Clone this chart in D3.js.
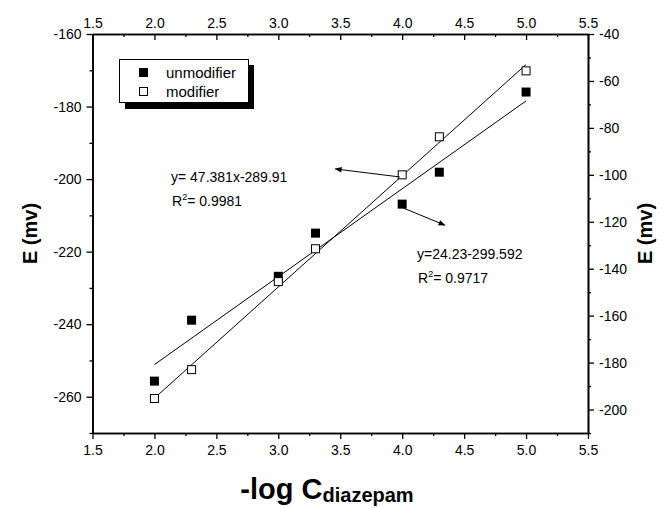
<!DOCTYPE html>
<html>
<head>
<meta charset="utf-8">
<script src="https://cdn.jsdelivr.net/npm/d3@7"></script>
<style>
  html, body { margin: 0; padding: 0; background: #fff; }
  svg { display: block; font-family: "Liberation Sans", Arial, sans-serif; }
</style>
</head>
<body>
<svg id="chart" width="664" height="508"></svg>
<script>
// -log C values (shared by both series)
const logC = [2.0, 2.3, 3.0, 3.3, 4.0, 4.3, 5.0];
// Electrode potential (mV), unmodified electrode – left axis
const unmodifier = [-255.7, -238.9, -226.8, -214.9, -206.9, -198.1, -176.0];
// Electrode potential (mV), modified electrode – right axis
const modifier = [-195.3, -183.0, -145.5, -131.5, -100.0, -83.8, -55.7];
// Linear fits [slope, intercept]
const fitUnmod = [24.23, -299.592];
const fitMod = [47.381, -289.91];
// Tick values
const xTicks = [1.5, 2.0, 2.5, 3.0, 3.5, 4.0, 4.5, 5.0, 5.5];
const yLeftTicks = [-260, -240, -220, -200, -180, -160];
const yRightTicks = [-200, -180, -160, -140, -120, -100, -80, -60, -40];

const svg = d3.select("#chart");
const L = 92.5, R = 588, T = 34, B = 433;

const x = d3.scaleLinear().domain([1.5, 5.5]).range([L, R]);
const yL = d3.scaleLinear().domain([-270, -160]).range([B, T]);
const yR = d3.scaleLinear().domain([-210, -40]).range([B, T]);

const fmt1 = d3.format(".1f");
const fmtInt = d => String(d); // plain hyphen-minus

function styleAxis(g) {
  g.selectAll("path.domain").attr("stroke", "#000").attr("stroke-width", 1.6);
  g.selectAll(".tick line").attr("stroke", "#000").attr("stroke-width", 1.3);
  g.selectAll(".tick text").attr("fill", "#000")
    .style("font-family", "'Liberation Sans', Arial, sans-serif").style("font-size", "14px");
}

// minor ticks
const xMinor = d3.range(1.75, 5.5, 0.5);
const yLMinor = d3.range(-270, -160, 20);
const yRMinor = d3.range(-210, -40, 20);

// bottom axis
svg.append("g").attr("transform", `translate(0,${B})`)
  .call(d3.axisBottom(x).tickValues(xTicks).tickFormat(fmt1).tickSize(6).tickSizeOuter(0).tickPadding(6))
  .call(styleAxis);
svg.append("g").attr("transform", `translate(0,${B})`)
  .call(d3.axisBottom(x).tickValues(xMinor).tickFormat("").tickSize(3).tickSizeOuter(0))
  .call(styleAxis);

// top axis (ticks pointing inward)
svg.append("g").attr("transform", `translate(0,${T})`)
  .call(d3.axisTop(x).tickValues(xTicks).tickFormat(fmt1).tickSize(-6).tickSizeOuter(0).tickPadding(6))
  .call(styleAxis);
svg.append("g").attr("transform", `translate(0,${T})`)
  .call(d3.axisTop(x).tickValues(xMinor).tickFormat("").tickSize(-3).tickSizeOuter(0))
  .call(styleAxis);

// left axis
svg.append("g").attr("transform", `translate(${L},0)`)
  .call(d3.axisLeft(yL).tickValues(yLeftTicks).tickFormat(fmtInt).tickSize(6).tickSizeOuter(0).tickPadding(5))
  .call(styleAxis);
svg.append("g").attr("transform", `translate(${L},0)`)
  .call(d3.axisLeft(yL).tickValues(yLMinor).tickFormat("").tickSize(3).tickSizeOuter(0))
  .call(styleAxis);

// right axis
svg.append("g").attr("transform", `translate(${R},0)`)
  .call(d3.axisRight(yR).tickValues(yRightTicks).tickFormat(fmtInt).tickSize(6).tickSizeOuter(0).tickPadding(5))
  .call(styleAxis);
svg.append("g").attr("transform", `translate(${R},0)`)
  .call(d3.axisRight(yR).tickValues(yRMinor).tickFormat("").tickSize(3).tickSizeOuter(0))
  .call(styleAxis);

// fit lines
const line = d3.line();
function fitLine(fit, ys) {
  const xs = [d3.min(logC), d3.max(logC)];
  return line(xs.map(v => [x(v), ys(fit[0] * v + fit[1])]));
}
svg.append("path").attr("d", fitLine(fitUnmod, yL)).attr("fill", "none").attr("stroke", "#000").attr("stroke-width", 1);
svg.append("path").attr("d", fitLine(fitMod, yR)).attr("fill", "none").attr("stroke", "#000").attr("stroke-width", 1);

// points
const S = 9;
svg.append("g").selectAll("rect").data(logC.map((v, i) => [v, unmodifier[i]])).join("rect")
  .attr("x", d => x(d[0]) - S / 2).attr("y", d => yL(d[1]) - S / 2)
  .attr("width", S).attr("height", S).attr("fill", "#000");
svg.append("g").selectAll("rect").data(logC.map((v, i) => [v, modifier[i]])).join("rect")
  .attr("x", d => x(d[0]) - S / 2 + 0.5).attr("y", d => yR(d[1]) - S / 2 + 0.5)
  .attr("width", S - 1).attr("height", S - 1).attr("fill", "#fff").attr("stroke", "#000").attr("stroke-width", 1);

// arrows
const defs = svg.append("defs");
defs.append("marker").attr("id", "ah").attr("viewBox", "0 0 10 10").attr("refX", 9).attr("refY", 5)
  .attr("markerWidth", 9).attr("markerHeight", 7).attr("orient", "auto").attr("markerUnits", "userSpaceOnUse")
  .append("path").attr("d", "M0,1 L10,5 L0,9 Z").attr("fill", "#000");
svg.append("line")
  .attr("x1", x(3.98)).attr("y1", yR(-100.9)).attr("x2", x(3.46)).attr("y2", yR(-97.5))
  .attr("stroke", "#000").attr("stroke-width", 1).attr("marker-end", "url(#ah)");
svg.append("line")
  .attr("x1", x(4.01)).attr("y1", yL(-208.0)).attr("x2", x(4.345)).attr("y2", yL(-212.7))
  .attr("stroke", "#000").attr("stroke-width", 1).attr("marker-end", "url(#ah)");

// fit equations
function eqText(tx, ty, eq, r2) {
  svg.append("text").attr("x", tx).attr("y", ty).attr("font-size", 14).text(eq);
  const t = svg.append("text").attr("x", tx + 1).attr("y", ty + 24).attr("font-size", 14);
  t.append("tspan").text("R");
  t.append("tspan").attr("font-size", 9).attr("dy", -6).text("2");
  t.append("tspan").attr("dy", 6).text("= " + r2);
}
eqText(171, 182, "y= " + fitMod[0] + "x" + fitMod[1], "0.9981");
eqText(417, 259, "y=" + fitUnmod[0] + fitUnmod[1], "0.9717");

// legend
const lg = svg.append("g");
lg.append("rect").attr("x", 125).attr("y", 65).attr("width", 129).attr("height", 44).attr("fill", "#000");
lg.append("rect").attr("x", 119.5).attr("y", 59.5).attr("width", 129).attr("height", 43)
  .attr("fill", "#fff").attr("stroke", "#000").attr("stroke-width", 1);
lg.append("rect").attr("x", 139).attr("y", 68).attr("width", 9).attr("height", 9).attr("fill", "#000");
lg.append("rect").attr("x", 139.5).attr("y", 87.5).attr("width", 8).attr("height", 8)
  .attr("fill", "#fff").attr("stroke", "#000");
lg.append("text").attr("x", 166).attr("y", 78).attr("font-size", 15).text("unmodifier");
lg.append("text").attr("x", 166).attr("y", 97).attr("font-size", 15).text("modifier");

// axis titles
svg.append("text").attr("transform", `translate(37,${(T + B) / 2}) rotate(-90)`)
  .attr("text-anchor", "middle").attr("font-size", 20).attr("font-weight", "bold").text("E (mv)");
svg.append("text").attr("transform", `translate(652,${(T + B) / 2}) rotate(-90)`)
  .attr("text-anchor", "middle").attr("font-size", 20).attr("font-weight", "bold").text("E (mv)");
const xt = svg.append("text").attr("x", 327).attr("y", 499).attr("text-anchor", "middle")
  .attr("font-weight", "bold").attr("font-size", 29);
xt.append("tspan").text("-log C");
xt.append("tspan").attr("font-size", 20).attr("dy", 3).text("diazepam");
</script>
</body>
</html>
